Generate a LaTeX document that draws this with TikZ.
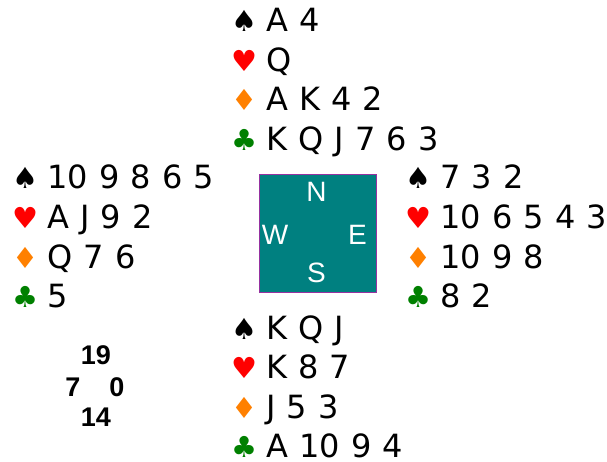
\documentclass[tikz,border=0pt]{standalone}
\usepackage{fontspec}
\setmainfont{DejaVu Sans}[WordSpace=1.1]
\newfontfamily\seatfont{Liberation Sans}
\usepackage{tikz}

\definecolor{feltgreen}{RGB}{0,128,128}
\definecolor{feltedge}{RGB}{150,50,160}
\definecolor{heartred}{RGB}{255,0,0}
\definecolor{diamondorange}{RGB}{255,128,0}
\definecolor{clubgreen}{RGB}{0,128,0}

\newcommand\suitsym[2]{\makebox[35pt][l]{\fontsize{29}{29}\selectfont\textcolor{#1}{#2}}}
% one hand: name, place of the spade line, then the four suits
\newcommand\handat[6]{%
  \node[cards] (#1s) at (#2) {\suitsym{black}{♠}#3};
  \node[cards] (#1h) at ([yshift=-39.5pt]#1s.base west) {\suitsym{heartred}{♥}#4};
  \node[cards] (#1d) at ([yshift=-39.5pt]#1h.base west) {\suitsym{diamondorange}{♦}#5};
  \node[cards] (#1c) at ([yshift=-39.5pt]#1d.base west) {\suitsym{clubgreen}{♣}#6};
}

\begin{document}
\begin{tikzpicture}[x=1pt,y=-1pt,
  cards/.style={anchor=base west,inner sep=0pt,font=\fontsize{32}{39.5}\selectfont},
  seat/.style={inner sep=0pt,text=white,font=\seatfont\fontsize{28}{28}\selectfont},
  score/.style={inner sep=0pt,font=\seatfont\bfseries\fontsize{27}{27}\selectfont}]
\useasboundingbox (0,0) rectangle (607,462);
  \handat{north}{231,32}{A 4}{Q}{A K 4 2}{K Q J 7 6 3}
  \handat{west}{12,189}{10 9 8 6 5}{A J 9 2}{Q 7 6}{5}
  \handat{east}{405,189}{7 3 2}{10 6 5 4 3}{10 9 8}{8 2}
  \handat{south}{231,339}{K Q J}{K 8 7}{J 5 3}{A 10 9 4}
  \node[draw=feltedge,fill=feltgreen,line width=1pt,inner sep=0pt,
    minimum width=117pt,minimum height=117pt] (table) at (317.5,233.5) {};
  \node[seat] (seatn) at (316.5,192) {N};
  \node[seat] (seatw) at (275,235) {W};
  \node[seat] (seate) at (357.5,235) {E};
  \node[seat] (seats) at (316.5,273) {S};
  \node[score] (scoren) at (96,355) {19};
  \node[score] (scorew) at (73,387) {7};
  \node[score] (scoree) at (117,387) {0};
  \node[score] (scores) at (96,417) {14};
\end{tikzpicture}
\end{document}
